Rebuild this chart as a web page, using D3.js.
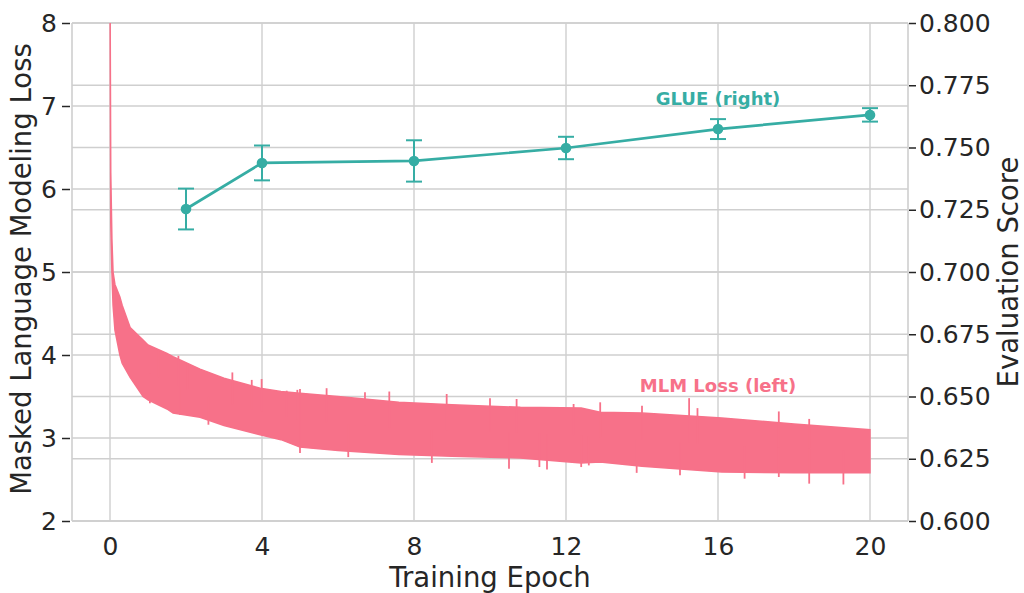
<!DOCTYPE html>
<html>
<head>
<meta charset="utf-8">
<script src="https://cdn.jsdelivr.net/npm/d3@7"></script>
<style>
  body { margin: 0; background: #fff; }
  text { font-family: "DejaVu Sans", sans-serif; fill: #262626; }
</style>
</head>
<body>
<div id="chart"></div>
<script>
const lossEpochs = [0, 0.02, 0.05, 0.08, 0.13, 0.26, 0.32, 0.53, 0.87, 1.0, 1.5, 1.66, 2.37, 3.0, 3.95, 4.5, 5.0, 6.0, 7.6, 9.0, 10.8, 12.4, 12.9, 14.0, 16.1, 18.0, 20.0];
const lossUpper  = [8.6, 6.2, 5.4, 5.0, 4.85, 4.70, 4.60, 4.33, 4.18, 4.12, 4.02, 3.98, 3.83, 3.72, 3.60, 3.56, 3.54, 3.50, 3.43, 3.40, 3.37, 3.36, 3.31, 3.30, 3.24, 3.17, 3.10];
const lossLower  = [8.6, 5.6, 5.0, 4.6, 4.30, 4.00, 3.90, 3.73, 3.50, 3.46, 3.35, 3.30, 3.25, 3.15, 3.04, 2.98, 2.89, 2.85, 2.80, 2.78, 2.76, 2.70, 2.71, 2.66, 2.59, 2.58, 2.58];

// noticeable spikes sticking out of the band (tip values)
const spikeEpochs = [1.05, 1.27, 1.80, 1.84, 2.03, 2.59, 3.22, 3.73, 3.99, 4.65, 4.93, 5.0, 5.0, 5.70, 6.27, 6.71, 7.35, 8.47, 8.86, 10.0, 10.5, 10.7, 11.3, 11.5, 12.2, 12.4, 12.6, 12.9, 13.86, 14.0, 15.0, 15.24, 15.46, 16.7, 17.6, 17.6, 18.4, 18.4, 19.3];
const spikeValues = [3.42, 4.06, 3.99, 3.28, 3.90, 3.16, 3.79, 3.70, 3.71, 3.57, 3.58, 3.59, 2.82, 3.60, 2.77, 3.55, 3.56, 2.70, 3.53, 3.48, 2.63, 3.47, 2.65, 2.62, 3.41, 2.65, 2.67, 3.43, 2.58, 3.39, 2.55, 3.48, 3.36, 2.51, 3.32, 2.53, 3.23, 2.45, 2.44];

// GLUE evaluation
const glueEpochs = [2, 4, 8, 12, 16, 20];
const glueScores = [0.7253, 0.7438, 0.7446, 0.7498, 0.7574, 0.7631];
const glueErr    = [0.0082, 0.0070, 0.0083, 0.0045, 0.0040, 0.0027];

const xTicks = [0, 4, 8, 12, 16, 20];
const lossTicks = [2, 3, 4, 5, 6, 7, 8];
const scoreTicks = [0.600, 0.625, 0.650, 0.675, 0.700, 0.725, 0.750, 0.775, 0.800];

const W = 1024, H = 593;
const mLeft = 72, mRight = 908, mTop = 23, mBottom = 521;
const pink = "#f77189", teal = "#36ada4", grid = "#cfcfcf";

const svg = d3.select("#chart").append("svg")
    .attr("width", W).attr("height", H);

const x = d3.scaleLinear().domain([-1, 21]).range([mLeft, mRight]);
const yL = d3.scaleLinear().domain([2, 8]).range([mBottom, mTop]);
const yR = d3.scaleLinear().domain([0.6, 0.8]).range([mBottom, mTop]);

svg.append("clipPath").attr("id", "plot")
  .append("rect").attr("x", mLeft).attr("y", mTop)
  .attr("width", mRight - mLeft).attr("height", mBottom - mTop);

// grid
const g = svg.append("g").attr("stroke", grid).attr("stroke-width", 1.4);
g.selectAll(".gx").data(xTicks).join("line")
    .attr("x1", d => x(d)).attr("x2", d => x(d))
    .attr("y1", mTop).attr("y2", mBottom);
g.selectAll(".gl").data(lossTicks).join("line")
    .attr("x1", mLeft).attr("x2", mRight)
    .attr("y1", d => yL(d)).attr("y2", d => yL(d));
g.selectAll(".gr").data(scoreTicks).join("line")
    .attr("x1", mLeft).attr("x2", mRight)
    .attr("y1", d => yR(d)).attr("y2", d => yR(d));

// loss band
const band = svg.append("g").attr("clip-path", "url(#plot)");
const bandData = lossEpochs.map((e, i) => ({e, hi: lossUpper[i], lo: lossLower[i]}));
band.append("path")
    .datum(bandData)
    .attr("fill", pink)
    .attr("stroke", pink)
    .attr("stroke-width", 1.5)
    .attr("d", d3.area().x(d => x(d.e)).y0(d => yL(d.lo)).y1(d => yL(d.hi)));

const hiAt = d3.scaleLinear().domain(lossEpochs).range(lossUpper);
const loAt = d3.scaleLinear().domain(lossEpochs).range(lossLower);
band.selectAll(".spike").data(spikeEpochs).join("line")
    .attr("stroke", pink).attr("stroke-width", 1.8)
    .attr("x1", d => x(d)).attr("x2", d => x(d))
    .attr("y1", d => yL((hiAt(d) + loAt(d)) / 2))
    .attr("y2", (d, i) => yL(spikeValues[i]));

// spines
const sp = svg.append("g").attr("stroke", grid).attr("stroke-width", 1.6);
sp.append("line").attr("x1", mLeft).attr("x2", mLeft).attr("y1", mTop).attr("y2", mBottom);
sp.append("line").attr("x1", mRight).attr("x2", mRight).attr("y1", mTop).attr("y2", mBottom);
sp.append("line").attr("x1", mLeft).attr("x2", mRight).attr("y1", mBottom).attr("y2", mBottom);

// axes
const axL = svg.append("g").attr("transform", `translate(${mLeft - 2},0)`)
    .call(d3.axisLeft(yL).tickValues(lossTicks).tickSize(8).tickPadding(5).tickFormat(d3.format("d")));
const axR = svg.append("g").attr("transform", `translate(${mRight + 1},0)`)
    .call(d3.axisRight(yR).tickValues(scoreTicks).tickSize(7).tickPadding(3).tickFormat(d3.format(".3f")));
const axB = svg.append("g").attr("transform", `translate(0,${mBottom})`)
    .call(d3.axisBottom(x).tickValues(xTicks).tickSize(0).tickPadding(16).tickFormat(d3.format("d")));

[axL, axR, axB].forEach(a => {
  a.select(".domain").remove();
  a.selectAll(".tick line").attr("stroke", "#262626").attr("stroke-width", 1.5);
  a.selectAll("text").attr("font-size", 25).attr("font-family", "DejaVu Sans").attr("fill", "#262626");
});
axB.selectAll(".tick line").remove();

// axis titles
svg.append("text").attr("x", (mLeft + mRight) / 2).attr("y", 587)
    .attr("text-anchor", "middle").attr("font-size", 27.5).text("Training Epoch");
svg.append("text").attr("transform", `translate(31,${(mTop + mBottom) / 2 - 3}) rotate(-90)`)
    .attr("text-anchor", "middle").attr("font-size", 27.5).text("Masked Language Modeling Loss");
svg.append("text").attr("transform", `translate(1018,${(mTop + mBottom) / 2}) rotate(-90)`)
    .attr("text-anchor", "middle").attr("font-size", 27.5).text("Evaluation Score");

// GLUE line with error bars
const glue = glueEpochs.map((e, i) => ({e, v: glueScores[i], err: glueErr[i]}));
svg.append("path").datum(glue)
    .attr("fill", "none").attr("stroke", teal).attr("stroke-width", 2.7)
    .attr("d", d3.line().x(d => x(d.e)).y(d => yR(d.v)));
const eb = svg.append("g").attr("stroke", teal).attr("stroke-width", 2);
eb.selectAll(".v").data(glue).join("line")
    .attr("x1", d => x(d.e)).attr("x2", d => x(d.e))
    .attr("y1", d => yR(d.v - d.err)).attr("y2", d => yR(d.v + d.err));
eb.selectAll(".ct").data(glue).join("line")
    .attr("x1", d => x(d.e) - 8).attr("x2", d => x(d.e) + 8)
    .attr("y1", d => yR(d.v + d.err)).attr("y2", d => yR(d.v + d.err));
eb.selectAll(".cb").data(glue).join("line")
    .attr("x1", d => x(d.e) - 8).attr("x2", d => x(d.e) + 8)
    .attr("y1", d => yR(d.v - d.err)).attr("y2", d => yR(d.v - d.err));
svg.selectAll(".dot").data(glue).join("circle")
    .attr("cx", d => x(d.e)).attr("cy", d => yR(d.v)).attr("r", 5.3)
    .attr("fill", teal);

// inline series labels
svg.append("text").attr("x", x(16)).attr("y", yR(0.767))
    .attr("text-anchor", "middle").attr("font-size", 18).attr("font-weight", "bold")
    .style("fill", teal).text("GLUE (right)");
svg.append("text").attr("x", x(16)).attr("y", yL(3.554))
    .attr("text-anchor", "middle").attr("font-size", 18).attr("font-weight", "bold")
    .style("fill", pink).text("MLM Loss (left)");
</script>
</body>
</html>
